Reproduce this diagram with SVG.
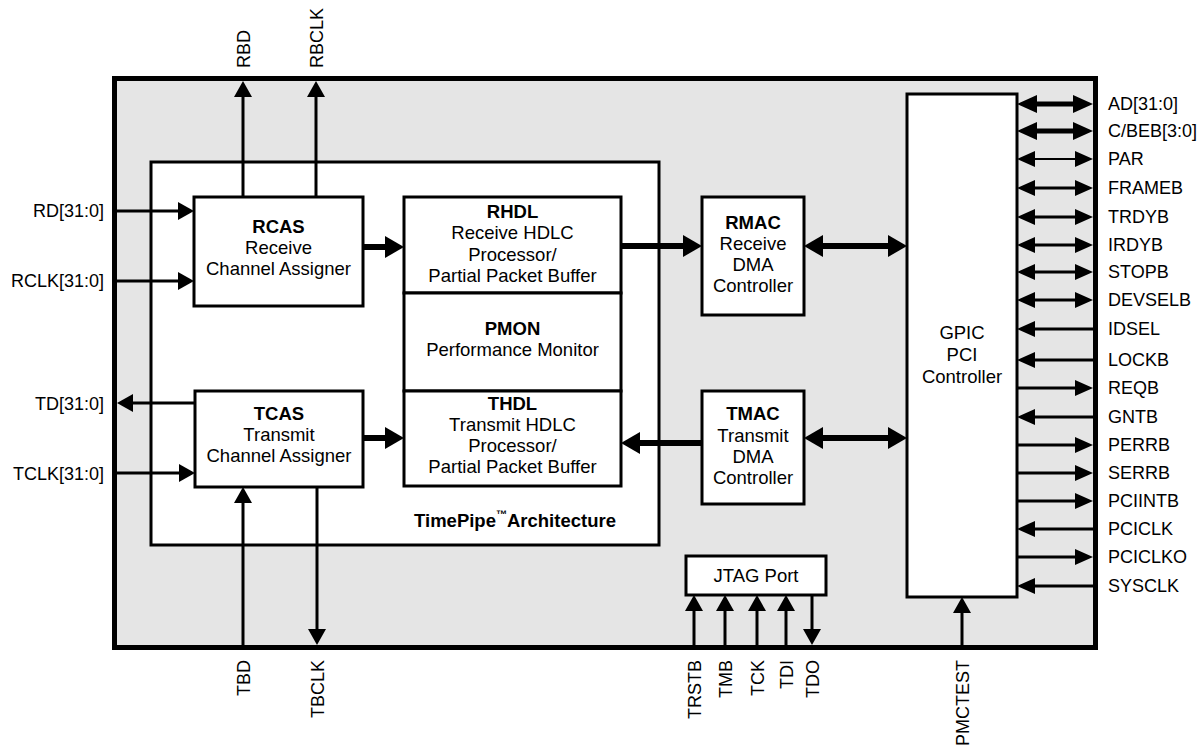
<svg xmlns="http://www.w3.org/2000/svg" width="1202" height="747" viewBox="0 0 1202 747">
<style>
text{font-family:"Liberation Sans",Arial,sans-serif;fill:#000}
.blk{fill:#fff;stroke:#000;stroke-width:3}
.t{font-size:18.5px;text-anchor:middle}
.b{font-weight:bold}
.pin{font-size:18px}
.l{stroke:#000;stroke-width:3;fill:none}
.thin{stroke:#000;stroke-width:2;fill:none}
.k{stroke:#000;stroke-width:6;fill:none}
.bus{stroke:#000;stroke-width:5;fill:none}
</style>
<defs>
<marker id="a" viewBox="0 0 16 18" markerWidth="16" markerHeight="18" refX="0" refY="9" orient="auto-start-reverse" markerUnits="userSpaceOnUse"><path d="M0,0 L16,9 L0,18 z" fill="#000"/></marker>
<marker id="s" viewBox="0 0 18 16" markerWidth="18" markerHeight="16" refX="0" refY="8" orient="auto-start-reverse" markerUnits="userSpaceOnUse"><path d="M0,0 L18,8 L0,16 z" fill="#000"/></marker>
<marker id="p" viewBox="0 0 20 18" markerWidth="20" markerHeight="18" refX="0" refY="9" orient="auto-start-reverse" markerUnits="userSpaceOnUse"><path d="M0,0 L20,9 L0,18 z" fill="#000"/></marker>
<marker id="k" viewBox="0 0 19 22" markerWidth="19" markerHeight="22" refX="0" refY="11" orient="auto-start-reverse" markerUnits="userSpaceOnUse"><path d="M0,0 L19,11 L0,22 z" fill="#000"/></marker>
</defs>

<g id="chip">
<rect x="114.5" y="78.5" width="981" height="569" fill="#e5e5e5" stroke="#000" stroke-width="5"/>
</g>

<g id="timepipe">
<rect x="151" y="162" width="508" height="383" class="blk"/>
<text x="515" y="527" class="t b">TimePipe<tspan font-size="11" dy="-9">™</tspan><tspan dy="9">Architecture</tspan></text>
</g>

<g id="rcas">
<rect x="194" y="197" width="169" height="109" class="blk"/>
<text class="t b" x="278.5" y="233">RCAS</text>
<text class="t" x="278.5" y="254">Receive</text>
<text class="t" x="278.5" y="275">Channel Assigner</text>
</g>

<g id="tcas">
<rect x="195" y="391" width="168" height="96" class="blk"/>
<text class="t b" x="279" y="420">TCAS</text>
<text class="t" x="279" y="441">Transmit</text>
<text class="t" x="279" y="462">Channel Assigner</text>
</g>

<g id="rhdl">
<rect x="404" y="197" width="217" height="96" class="blk"/>
<text class="t b" x="512.5" y="218">RHDL</text>
<text class="t" x="512.5" y="239">Receive HDLC</text>
<text class="t" x="512.5" y="260.5">Processor/</text>
<text class="t" x="512.5" y="281.5">Partial Packet Buffer</text>
</g>

<g id="pmon">
<rect x="404" y="293" width="217" height="98" class="blk"/>
<text class="t b" x="512.5" y="335">PMON</text>
<text class="t" x="512.5" y="356">Performance Monitor</text>
</g>

<g id="thdl">
<rect x="404" y="391" width="217" height="95" class="blk"/>
<text class="t b" x="512.5" y="410">THDL</text>
<text class="t" x="512.5" y="431">Transmit HDLC</text>
<text class="t" x="512.5" y="452">Processor/</text>
<text class="t" x="512.5" y="473">Partial Packet Buffer</text>
</g>

<g id="rmac">
<rect x="702" y="197" width="102" height="118" class="blk"/>
<text class="t b" x="753" y="228.5">RMAC</text>
<text class="t" x="753" y="250">Receive</text>
<text class="t" x="753" y="271">DMA</text>
<text class="t" x="753" y="292">Controller</text>
</g>

<g id="tmac">
<rect x="702" y="391" width="102" height="113" class="blk"/>
<text class="t b" x="753" y="419.5">TMAC</text>
<text class="t" x="753" y="441.5">Transmit</text>
<text class="t" x="753" y="462.5">DMA</text>
<text class="t" x="753" y="483.5">Controller</text>
</g>

<g id="jtag">
<rect x="686" y="556" width="140" height="39" class="blk"/>
<text class="t" x="756" y="582">JTAG Port</text>
</g>

<g id="gpic">
<rect x="907" y="94" width="110" height="503" class="blk"/>
<text class="t" x="962" y="339">GPIC</text>
<text class="t" x="962" y="361">PCI</text>
<text class="t" x="962" y="383">Controller</text>
</g>

<g id="connectors">
<!-- left pins -->
<line class="l" x1="116" y1="211" x2="178" y2="211" marker-end="url(#a)"/>
<line class="l" x1="116" y1="281" x2="178" y2="281" marker-end="url(#a)"/>
<line class="l" x1="195" y1="403" x2="133" y2="403" marker-end="url(#a)"/>
<line class="l" x1="116" y1="473" x2="179" y2="473" marker-end="url(#a)"/>
<!-- top pins -->
<line class="l" x1="243" y1="197" x2="243" y2="97" marker-end="url(#a)"/>
<line class="l" x1="316" y1="197" x2="316" y2="97" marker-end="url(#a)"/>
<!-- bottom pins -->
<line class="l" x1="243" y1="645" x2="243" y2="503" marker-end="url(#a)"/>
<line class="l" x1="317" y1="487" x2="317" y2="629" marker-end="url(#a)"/>
<!-- internal thick -->
<line class="k" x1="363" y1="247" x2="385" y2="247" marker-end="url(#k)"/>
<line class="k" x1="363" y1="438" x2="385" y2="438" marker-end="url(#k)"/>
<line class="k" x1="621" y1="246" x2="683" y2="246" marker-end="url(#k)"/>
<line class="k" x1="702" y1="443" x2="640" y2="443" marker-end="url(#k)"/>
<line class="k" x1="823" y1="246" x2="888" y2="246" marker-start="url(#k)" marker-end="url(#k)"/>
<line class="k" x1="823" y1="438" x2="888" y2="438" marker-start="url(#k)" marker-end="url(#k)"/>
<!-- right pins -->
<line class="bus" x1="1037" y1="104" x2="1073" y2="104" marker-start="url(#p)" marker-end="url(#p)"/>
<line class="bus" x1="1037" y1="131" x2="1073" y2="131" marker-start="url(#p)" marker-end="url(#p)"/>
<line class="thin" x1="1035" y1="159" x2="1075" y2="159" marker-start="url(#s)" marker-end="url(#s)"/>
<line class="l" x1="1035" y1="188" x2="1075" y2="188" marker-start="url(#s)" marker-end="url(#s)"/>
<line class="l" x1="1035" y1="217" x2="1075" y2="217" marker-start="url(#s)" marker-end="url(#s)"/>
<line class="l" x1="1035" y1="245" x2="1075" y2="245" marker-start="url(#s)" marker-end="url(#s)"/>
<line class="l" x1="1035" y1="272" x2="1075" y2="272" marker-start="url(#s)" marker-end="url(#s)"/>
<line class="l" x1="1035" y1="300" x2="1075" y2="300" marker-start="url(#s)" marker-end="url(#s)"/>
<line class="l" x1="1093" y1="329" x2="1035" y2="329" marker-end="url(#s)"/>
<line class="l" x1="1093" y1="360" x2="1035" y2="360" marker-end="url(#s)"/>
<line class="l" x1="1017" y1="388" x2="1075" y2="388" marker-end="url(#s)"/>
<line class="l" x1="1093" y1="417" x2="1035" y2="417" marker-end="url(#s)"/>
<line class="l" x1="1017" y1="445" x2="1075" y2="445" marker-end="url(#s)"/>
<line class="l" x1="1017" y1="473" x2="1075" y2="473" marker-end="url(#s)"/>
<line class="l" x1="1017" y1="501" x2="1075" y2="501" marker-end="url(#s)"/>
<line class="l" x1="1093" y1="529" x2="1035" y2="529" marker-end="url(#s)"/>
<line class="l" x1="1017" y1="557" x2="1075" y2="557" marker-end="url(#s)"/>
<line class="l" x1="1093" y1="586" x2="1035" y2="586" marker-end="url(#s)"/>
<!-- JTAG / PMCTEST -->
<line class="l" x1="694" y1="645" x2="694" y2="611" marker-end="url(#a)"/>
<line class="l" x1="725" y1="645" x2="725" y2="611" marker-end="url(#a)"/>
<line class="l" x1="757" y1="645" x2="757" y2="611" marker-end="url(#a)"/>
<line class="l" x1="786" y1="645" x2="786" y2="611" marker-end="url(#a)"/>
<line class="l" x1="812" y1="595" x2="812" y2="629" marker-end="url(#a)"/>
<line class="l" x1="962" y1="645" x2="962" y2="613" marker-end="url(#a)"/>
</g>

<g id="pin-labels" class="pin">
<text x="104" y="217" text-anchor="end">RD[31:0]</text>
<text x="104" y="287" text-anchor="end">RCLK[31:0]</text>
<text x="104" y="410" text-anchor="end">TD[31:0]</text>
<text x="104" y="480" text-anchor="end">TCLK[31:0]</text>
<text transform="translate(250,68) rotate(-90)">RBD</text>
<text transform="translate(323,68) rotate(-90)">RBCLK</text>
<text transform="translate(250,660) rotate(-90)" text-anchor="end">TBD</text>
<text transform="translate(324,660) rotate(-90)" text-anchor="end">TBCLK</text>
<text transform="translate(701,660) rotate(-90)" text-anchor="end">TRSTB</text>
<text transform="translate(732,660) rotate(-90)" text-anchor="end">TMB</text>
<text transform="translate(764,660) rotate(-90)" text-anchor="end">TCK</text>
<text transform="translate(793,660) rotate(-90)" text-anchor="end">TDI</text>
<text transform="translate(819,660) rotate(-90)" text-anchor="end">TDO</text>
<text transform="translate(969,660) rotate(-90)" text-anchor="end">PMCTEST</text>
<text x="1108" y="110">AD[31:0]</text>
<text x="1108" y="137">C/BEB[3:0]</text>
<text x="1108" y="165">PAR</text>
<text x="1108" y="194">FRAMEB</text>
<text x="1108" y="223">TRDYB</text>
<text x="1108" y="251">IRDYB</text>
<text x="1108" y="278">STOPB</text>
<text x="1108" y="306">DEVSELB</text>
<text x="1108" y="335">IDSEL</text>
<text x="1108" y="366">LOCKB</text>
<text x="1108" y="394">REQB</text>
<text x="1108" y="423">GNTB</text>
<text x="1108" y="451">PERRB</text>
<text x="1108" y="479">SERRB</text>
<text x="1108" y="507">PCIINTB</text>
<text x="1108" y="535">PCICLK</text>
<text x="1108" y="563">PCICLKO</text>
<text x="1108" y="592">SYSCLK</text>
</g>
</svg>
